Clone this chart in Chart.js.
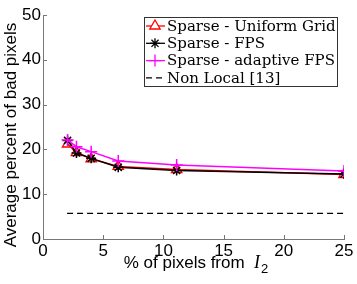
<!DOCTYPE html>
<html>
<head>
<meta charset="utf-8">
<script src="https://cdn.jsdelivr.net/npm/chart.js@4"></script>
<style>
  body { margin: 0; background: #fff; }
  #wrap { width: 357px; height: 284px; }
</style>
</head>
<body>
<div id="wrap"><canvas id="myChart" width="357" height="284"></canvas></div>
<script>
// sample fractions (% of pixels taken from I2)
let pct = [2.04, 2.78, 4, 6.25, 11.1, 25]
let uniformGrid = [21.2, 19.3, 17.9, 16.2, 15.5, 14.4]
let fps = [22.0, 19.2, 18.0, 16.0, 15.3, 14.5]
let adaptiveFps = [22.1, 20.6, 19.5, 17.4, 16.5, 15.2]
let nonLocal = [5.7, 5.7]
let nonLocalX = [2, 25]
let xTicks = [0, 5, 10, 15, 20, 25]
let yTicks = [0, 10, 20, 30, 40, 50]
let labels = ['Sparse - Uniform Grid', 'Sparse - FPS', 'Sparse - adaptive FPS', 'Non Local [13]']

let toXY = (xs, ys) => xs.map((x, i) => ({ x: x, y: ys[i] }))

// inward ticks, axis titles and boxed legend
let extras = {
    id: 'extras',
    afterDraw(chart) {
        let c = chart.ctx
        let xs = chart.scales.x, ys = chart.scales.y
        let a = chart.chartArea
        c.save()
        c.strokeStyle = '#777'
        c.lineWidth = 1
        c.beginPath()
        xTicks.forEach(v => {
            let p = Math.round(xs.getPixelForValue(v)) + 0.5
            c.moveTo(p, a.bottom); c.lineTo(p, a.bottom - 4)
        })
        yTicks.forEach(v => {
            let p = Math.round(ys.getPixelForValue(v)) + 0.5
            c.moveTo(a.left, p); c.lineTo(a.left + 4, p)
        })
        c.stroke()

        // y title
        c.fillStyle = '#000'
        c.font = '17px "Liberation Sans", Arial, sans-serif'
        c.textAlign = 'center'
        c.textBaseline = 'middle'
        c.save()
        c.translate(11, (a.top + a.bottom) / 2 + 8)
        c.rotate(-Math.PI / 2)
        c.fillText('Average percent of bad pixels', 0, 0)
        c.restore()

        // x title with italic I and subscript 2
        let t1 = '% of pixels from  '
        c.font = '17px "Liberation Sans", Arial, sans-serif'
        let w1 = c.measureText(t1).width
        c.font = 'italic 18px "Liberation Serif", serif'
        let w2 = c.measureText('I').width
        c.font = '13px "Liberation Sans", Arial, sans-serif'
        let w3 = c.measureText('2').width
        let x0 = (a.left + a.right) / 2 - (w1 + w2 + w3) / 2 + 2
        let yb = 268
        c.textAlign = 'left'
        c.textBaseline = 'alphabetic'
        c.font = '17px "Liberation Sans", Arial, sans-serif'
        c.fillText(t1, x0, yb)
        c.font = 'italic 18px "Liberation Serif", serif'
        c.fillText('I', x0 + w1, yb)
        c.font = '13px "Liberation Sans", Arial, sans-serif'
        c.fillText('2', x0 + w1 + w2 + 1, yb + 5)

        // legend box
        let bx = a.right - 200, by = a.top + 2, bw = 193, bh = 69
        c.fillStyle = '#fff'
        c.fillRect(bx, by, bw, bh)
        c.strokeStyle = '#333'
        c.strokeRect(bx + 0.5, by + 0.5, bw, bh)
        let rows = chart.data.datasets
        rows.forEach((d, i) => {
            let ry = by + 9 + i * 17.3
            c.strokeStyle = d.borderColor
            c.lineWidth = 1.3
            c.setLineDash(d.borderDash || [])
            c.beginPath()
            c.moveTo(bx + 2, ry); c.lineTo(bx + 21, ry)
            c.stroke()
            c.setLineDash([])
            if (d.pointStyle && d.pointRadius > 0) {
                Chart.helpers.drawPoint(c, {
                    pointStyle: d.pointStyle, radius: d.pointRadius,
                    borderWidth: d.pointBorderWidth || 1.5, rotation: 0
                }, bx + 11, ry)
            }
            c.fillStyle = '#000'
            c.font = '15px "DejaVu Serif", serif'
            c.textBaseline = 'middle'
            c.fillText(labels[i], bx + 23, ry + 1)
        })
        c.restore()
    }
}

let myChart = document.getElementById('myChart').getContext('2d')

let resChart = new Chart(myChart, {
    type: 'line',
    data: {
        datasets: [{
            label: labels[0],
            data: toXY(pct, uniformGrid),
            borderColor: '#ff0000',
            backgroundColor: 'transparent',
            borderWidth: 1.5,
            pointStyle: 'triangle',
            pointRadius: 6,
            pointBorderWidth: 1.3,
            pointBorderColor: '#ff0000',
            order: 4
        }, {
            label: labels[1],
            data: toXY(pct, fps),
            borderColor: '#000000',
            backgroundColor: 'transparent',
            borderWidth: 1.5,
            pointStyle: 'star',
            pointRadius: 5,
            pointBorderWidth: 1.5,
            pointBorderColor: '#000000',
            order: 3
        }, {
            label: labels[2],
            data: toXY(pct, adaptiveFps),
            borderColor: '#ff00ff',
            backgroundColor: 'transparent',
            borderWidth: 1.5,
            pointStyle: 'cross',
            pointRadius: 6,
            pointBorderWidth: 1.5,
            pointBorderColor: '#ff00ff',
            order: 2
        }, {
            label: labels[3],
            data: toXY(nonLocalX, nonLocal),
            borderColor: '#000000',
            backgroundColor: 'transparent',
            borderWidth: 1.3,
            borderDash: [6, 4],
            pointRadius: 0,
            order: 1
        }]
    },
    options: {
        responsive: false,
        animation: false,
        layout: { padding: { left: 0, right: 13, top: 15, bottom: 0 } },
        plugins: { legend: { display: false }, tooltip: { enabled: false } },
        elements: { line: { tension: 0 } },
        scales: {
            x: {
                type: 'linear', min: 0, max: 25,
                afterBuildTicks: s => { s.ticks = xTicks.map(v => ({ value: v })) },
                afterFit: s => { s.height = 45 },
                grid: { display: true, drawOnChartArea: false, drawTicks: false, color: '#777' },
                border: { color: '#777', width: 1 },
                ticks: { color: '#000', padding: 2, font: { size: 17, family: '"Liberation Sans", Arial, sans-serif' } }
            },
            y: {
                type: 'linear', min: 0, max: 50,
                afterBuildTicks: s => { s.ticks = yTicks.map(v => ({ value: v })) },
                afterFit: s => { s.width = 43 },
                grid: { display: true, drawOnChartArea: false, drawTicks: false, color: '#777' },
                border: { color: '#777', width: 1 },
                ticks: { color: '#000', padding: 2, font: { size: 17, family: '"Liberation Sans", Arial, sans-serif' } }
            }
        }
    },
    plugins: [extras]
})
</script>
</body>
</html>
